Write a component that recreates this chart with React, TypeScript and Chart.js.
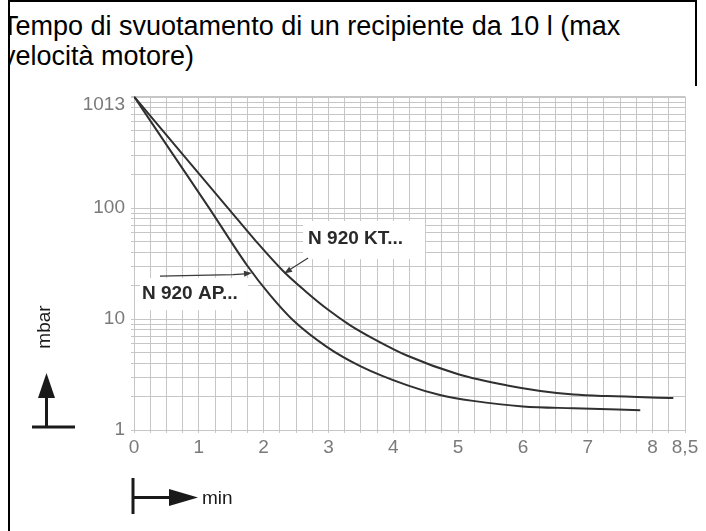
import React, { useEffect, useRef } from "react";
import { Chart, registerables } from "chart.js";

Chart.register(...registerables);

const TITLE_LINES = ["Tempo di svuotamento di un recipiente da 10 l (max", "velocità motore)"];
const SERIES_LABELS = ["N 920 KT...", "N 920 AP..."];

const KT_TIME = [0, 0.725, 1.45, 1.88, 2.3, 2.64, 2.98, 3.33, 3.69, 4.21, 4.99, 5.76, 6.27, 6.78, 7.3, 8.32];
const KT_PRESSURE = [1013, 318, 100, 50.4, 27.1, 17.9, 12.3, 8.83, 6.67, 4.69, 3.2, 2.52, 2.25, 2.09, 2.02, 1.94];

const AP_TIME = [0, 0.58, 1.16, 1.74, 2.1, 2.45, 2.98, 3.49, 4.21, 4.72, 5.23, 6.0, 6.78, 7.81];
const AP_PRESSURE = [1013, 318, 100, 30.7, 16.4, 9.8, 5.59, 3.77, 2.54, 2.07, 1.83, 1.63, 1.57, 1.51];

const X_TICK_VALUES = [0, 1, 2, 3, 4, 5, 6, 7, 8, 8.5];
const X_TICK_LABELS = ["0", "1", "2", "3", "4", "5", "6", "7", "8", "8,5"];
const Y_TICK_VALUES = [1, 10, 100, 1013];
const Y_TICK_LABELS = ["1", "10", "100", "1013"];

const X_MIN = 0;
const X_MAX = 8.5;
const X_GRID_STEP = 0.25;
const Y_MIN = 1;
const Y_MAX = 1013;
const Y_DECADES = [1, 10, 100];

const X_AXIS_TITLE = "min";
const Y_AXIS_TITLE = "mbar";

// points on the curves where the label leader arrows end (data units)
const KT_LABEL_TIP = { x: 2.3, y: 26.5 };
const AP_LABEL_TIP = { x: 1.82, y: 26.5 };

const GRID_COLOR = "#c6c6c6";
const CURVE_COLOR = "#303030";
const TICK_COLOR = "#7a7a7a";
const FONT = '"Liberation Sans", Arial, Helvetica, sans-serif';

function xGridValues() {
  const out: number[] = [];
  const n = Math.round((X_MAX - X_MIN) / X_GRID_STEP);
  for (let i = 0; i <= n; i++) out.push(X_MIN + i * X_GRID_STEP);
  return out;
}

function yGridValues() {
  const out: number[] = [];
  Y_DECADES.forEach((d) => {
    for (let m = 1; m <= 9; m++) out.push(m * d);
  });
  out.push(1000);
  out.push(Y_MAX);
  return out;
}

function arrowHead(ctx: CanvasRenderingContext2D, x0: number, y0: number, x1: number, y1: number, len: number, half: number) {
  const a = Math.atan2(y1 - y0, x1 - x0);
  const bx = x1 - Math.cos(a) * len;
  const by = y1 - Math.sin(a) * len;
  const nx = -Math.sin(a) * half;
  const ny = Math.cos(a) * half;
  ctx.beginPath();
  ctx.moveTo(x1, y1);
  ctx.lineTo(bx + nx, by + ny);
  ctx.lineTo(bx - nx, by - ny);
  ctx.closePath();
  ctx.fill();
}

const decorations = {
  id: "decorations",
  beforeDatasetsDraw(chart: any) {
    const ctx: CanvasRenderingContext2D = chart.ctx;
    const xs = chart.scales.x;
    const ys = chart.scales.y;
    const kt = { x: xs.getPixelForValue(KT_LABEL_TIP.x), y: ys.getPixelForValue(KT_LABEL_TIP.y) };
    const ap = { x: xs.getPixelForValue(AP_LABEL_TIP.x), y: ys.getPixelForValue(AP_LABEL_TIP.y) };
    ctx.save();
    ctx.fillStyle = "#ffffff";
    ctx.fillRect(kt.x + 20, kt.y - 51, 122, 38);
    ctx.fillRect(ap.x - 112, ap.y + 6, 108, 32);

    ctx.fillStyle = "#2a2a2a";
    ctx.font = "bold 19px " + FONT;
    ctx.textAlign = "left";
    ctx.textBaseline = "middle";
    ctx.fillText(SERIES_LABELS[0], kt.x + 25, kt.y - 33);
    ctx.fillText(SERIES_LABELS[1], ap.x - 110, ap.y + 22);

    ctx.strokeStyle = "#3a3a3a";
    ctx.fillStyle = "#3a3a3a";
    ctx.lineWidth = 1.2;
    // KT leader
    ctx.beginPath();
    ctx.moveTo(kt.x + 25, kt.y - 14);
    ctx.lineTo(kt.x + 3, kt.y);
    ctx.stroke();
    arrowHead(ctx, kt.x + 25, kt.y - 14, kt.x + 1, kt.y + 1.5, 8, 3);
    // AP leader
    ctx.beginPath();
    ctx.moveTo(ap.x - 92, ap.y + 4);
    ctx.lineTo(ap.x - 19, ap.y + 2.5);
    ctx.lineTo(ap.x - 3, ap.y + 1.5);
    ctx.stroke();
    arrowHead(ctx, ap.x - 19, ap.y + 2.5, ap.x, ap.y + 1, 8, 3);
    ctx.restore();
  },
  afterDraw(chart: any) {
    const ctx: CanvasRenderingContext2D = chart.ctx;
    const { left: L, bottom: B } = chart.chartArea;
    ctx.save();
    ctx.fillStyle = "#1a1a1a";

    // y axis title, rotated
    ctx.save();
    ctx.translate(L - 89, B - 103);
    ctx.rotate(-Math.PI / 2);
    ctx.font = "19px " + FONT;
    ctx.textAlign = "center";
    ctx.textBaseline = "middle";
    ctx.fillText(Y_AXIS_TITLE, 0, 0);
    ctx.restore();

    // y arrow
    const ax = L - 87.5;
    ctx.fillRect(ax - 1.5, B - 35, 3, 32);
    ctx.fillRect(L - 102, B - 4.5, 43, 3);
    ctx.beginPath();
    ctx.moveTo(ax, B - 57);
    ctx.lineTo(ax - 8.5, B - 32);
    ctx.lineTo(ax + 8.5, B - 32);
    ctx.closePath();
    ctx.fill();

    // x arrow
    const ay = B + 67.5;
    ctx.fillRect(L - 2.5, B + 48, 3, 36);
    ctx.fillRect(L - 1, ay - 1.5, 38, 3);
    ctx.beginPath();
    ctx.moveTo(L + 64, ay);
    ctx.lineTo(L + 35, ay - 8.5);
    ctx.lineTo(L + 35, ay + 8.5);
    ctx.closePath();
    ctx.fill();

    ctx.font = "19px " + FONT;
    ctx.textAlign = "left";
    ctx.textBaseline = "middle";
    ctx.fillText(X_AXIS_TITLE, L + 68, ay + 1);
    ctx.restore();
  },
};

export default function App() {
  const canvasRef = useRef<HTMLCanvasElement | null>(null);

  useEffect(() => {
    if (!canvasRef.current) return;
    const xGrid = xGridValues();
    const yGrid = yGridValues();
    const chart = new Chart(canvasRef.current, {
      type: "line",
      data: {
        datasets: [
          {
            label: SERIES_LABELS[0],
            data: KT_TIME.map((t, i) => ({ x: t, y: KT_PRESSURE[i] })),
            borderColor: CURVE_COLOR,
            borderWidth: 2,
            pointRadius: 0,
            fill: false,
            cubicInterpolationMode: "monotone",
          },
          {
            label: SERIES_LABELS[1],
            data: AP_TIME.map((t, i) => ({ x: t, y: AP_PRESSURE[i] })),
            borderColor: CURVE_COLOR,
            borderWidth: 2,
            pointRadius: 0,
            fill: false,
            cubicInterpolationMode: "monotone",
          },
        ],
      },
      options: {
        animation: false,
        responsive: false,
        devicePixelRatio: 1,
        layout: { padding: { left: 0, top: 96.5, right: 21, bottom: 61 } },
        plugins: { legend: { display: false }, tooltip: { enabled: false }, title: { display: false } },
        scales: {
          x: {
            type: "linear",
            min: X_MIN,
            max: X_MAX,
            afterBuildTicks: (scale: any) => {
              scale.ticks = xGrid.map((v) => ({ value: v }));
            },
            afterFit: (scale: any) => {
              scale.height = 40;
            },
            grid: { color: GRID_COLOR, lineWidth: 1, tickLength: 3, drawTicks: true },
            border: { display: true, color: GRID_COLOR },
            ticks: {
              autoSkip: false,
              maxRotation: 0,
              minRotation: 0,
              padding: 3,
              color: TICK_COLOR,
              font: { family: FONT, size: 19 },
              callback: (value: any) => {
                const i = X_TICK_VALUES.indexOf(Number(value));
                return i >= 0 ? X_TICK_LABELS[i] : "";
              },
            },
          },
          y: {
            type: "logarithmic",
            min: Y_MIN,
            max: Y_MAX,
            afterBuildTicks: (scale: any) => {
              scale.ticks = yGrid.map((v) => ({ value: v }));
            },
            afterFit: (scale: any) => {
              scale.width = 134;
            },
            grid: { color: GRID_COLOR, lineWidth: 1, tickLength: 3, drawTicks: true },
            border: { display: true, color: GRID_COLOR },
            ticks: {
              autoSkip: false,
              padding: 6,
              color: TICK_COLOR,
              font: { family: FONT, size: 19, lineHeight: 0.85 },
              callback: (value: any) => {
                const v = Number(value);
                const i = Y_TICK_VALUES.indexOf(v);
                if (i < 0) return "";
                // the top label sits a little below the top edge in the original
                return v === Y_MAX ? ["", Y_TICK_LABELS[i]] : Y_TICK_LABELS[i];
              },
            },
          },
        },
      },
      plugins: [decorations],
    } as any);
    return () => chart.destroy();
  }, []);

  return (
    <div style={{ position: "absolute", left: 0, top: 0, width: 706, height: 531, background: "#fff", overflow: "hidden" }}>
      <div style={{ position: "absolute", left: 10, top: 10.7, width: 686, overflow: "hidden" }}>
        <div
          style={{
            marginLeft: -8,
            fontFamily: FONT,
            fontSize: 27,
            lineHeight: "30px",
            color: "#000",
            whiteSpace: "nowrap",
          }}
        >
          {TITLE_LINES[0]}
          <br />
          {TITLE_LINES[1]}
        </div>
      </div>
      <div style={{ position: "absolute", left: 8, top: 0, width: 2, height: 531, background: "#000" }} />
      <div style={{ position: "absolute", left: 8, top: 0, width: 689, height: 2, background: "#000" }} />
      <div style={{ position: "absolute", left: 695, top: 0, width: 2, height: 86, background: "#000" }} />
      <canvas ref={canvasRef} width={706} height={531} style={{ position: "absolute", left: 0, top: 0, width: 706, height: 531 }} />
    </div>
  );
}
